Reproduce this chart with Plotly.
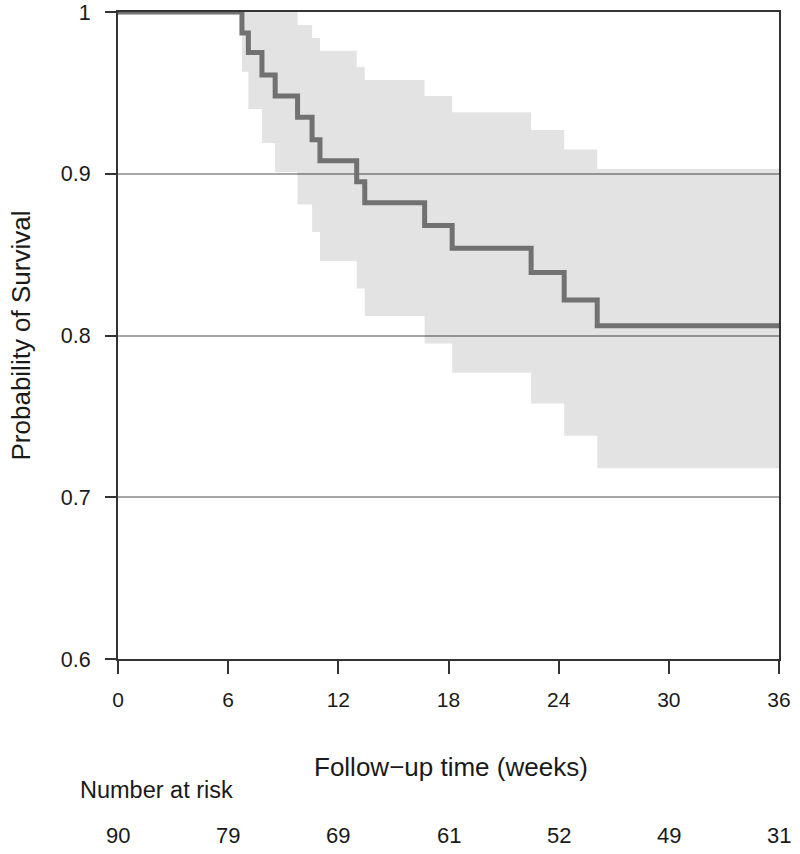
import plotly.graph_objects as go

# Kaplan-Meier estimate (step function)
weeks = [0, 6.75, 7.1, 7.84, 8.56, 9.78, 10.57, 11.0, 13.0, 13.44, 16.7, 18.2, 22.5, 24.3, 26.1, 36]
survival = [1.0, 0.987, 0.975, 0.961, 0.948, 0.935, 0.921, 0.908, 0.895, 0.882, 0.868, 0.854, 0.839, 0.822, 0.806, 0.806]
ci_lower = [1.0, 0.963, 0.940, 0.919, 0.901, 0.881, 0.864, 0.846, 0.829, 0.812, 0.795, 0.777, 0.758, 0.738, 0.718, 0.718]
ci_upper = [1.0, 1.0, 1.0, 1.0, 1.0, 0.992, 0.984, 0.976, 0.966, 0.958, 0.948, 0.938, 0.927, 0.915, 0.903, 0.903]

x_ticks = [0, 6, 12, 18, 24, 30, 36]
y_ticks = [0.6, 0.7, 0.8, 0.9, 1.0]
y_tick_labels = ["0.6", "0.7", "0.8", "0.9", "1"]
at_risk = [90, 79, 69, 61, 52, 49, 31]

FONT = "Liberation Sans, Arial, Helvetica, sans-serif"
TXT = "#1a1a1a"
AX = "#333333"

fig = go.Figure()
fig.add_trace(go.Scatter(x=weeks, y=ci_upper, mode="lines", line=dict(width=0, shape="hv"),
                         hoverinfo="skip", showlegend=False))
fig.add_trace(go.Scatter(x=weeks, y=ci_lower, mode="lines", line=dict(width=0, shape="hv"),
                         fill="tonexty", fillcolor="rgba(0,0,0,0.11)",
                         hoverinfo="skip", showlegend=False))
fig.add_trace(go.Scatter(x=weeks, y=survival, mode="lines",
                         line=dict(color="#717171", width=5, shape="hv"),
                         showlegend=False))

fig.update_xaxes(range=[0, 36], tickvals=x_ticks, ticks="outside", ticklen=13, tickwidth=2,
                 tickcolor=AX, showline=True, linecolor=AX, linewidth=2, mirror=True,
                 showgrid=False, zeroline=False, automargin=False,
                 tickfont=dict(family=FONT, size=21, color=TXT), ticklabelstandoff=8)
fig.update_yaxes(range=[0.6, 1.0], tickvals=y_ticks, ticktext=y_tick_labels, ticks="outside",
                 ticklen=11, tickwidth=2, tickcolor=AX, showline=True, linecolor=AX,
                 linewidth=2, mirror=True, showgrid=True, gridcolor="#a6a6a6", gridwidth=2,
                 zeroline=False, automargin=False,
                 tickfont=dict(family=FONT, size=21.5, color=TXT),
                 ticklabelstandoff=10)

annotations = [
    dict(text="Follow\u2212up time (weeks)", xref="paper", yref="paper", x=0.5, y=0,
         xanchor="center", yanchor="middle", yshift=-108, xshift=2, showarrow=False,
         font=dict(family=FONT, size=26, color=TXT)),
    dict(text="Probability of Survival", xref="paper", yref="paper", x=0, y=0.5,
         xanchor="center", yanchor="middle", xshift=-98, textangle=-90, showarrow=False,
         font=dict(family=FONT, size=26, color=TXT)),
    dict(text="Number at risk", xref="paper", yref="paper", x=0, y=0,
         xanchor="left", yanchor="middle", xshift=-40, yshift=-131, showarrow=False,
         font=dict(family=FONT, size=23.5, color=TXT)),
]
for xv, n in zip(x_ticks, at_risk):
    annotations.append(dict(text=str(n), xref="x", yref="paper", x=xv, y=0,
                            xanchor="center", yanchor="middle", yshift=-176, showarrow=False,
                            font=dict(family=FONT, size=22, color=TXT)))

fig.update_layout(width=800, height=854, margin=dict(l=118, r=21, t=12, b=195, autoexpand=False),
                  plot_bgcolor="white", paper_bgcolor="white", annotations=annotations,
                  showlegend=False)

fig.write_html("out.html", config={"displayModeBar": False},
               post_script="document.body.style.margin='0';")
